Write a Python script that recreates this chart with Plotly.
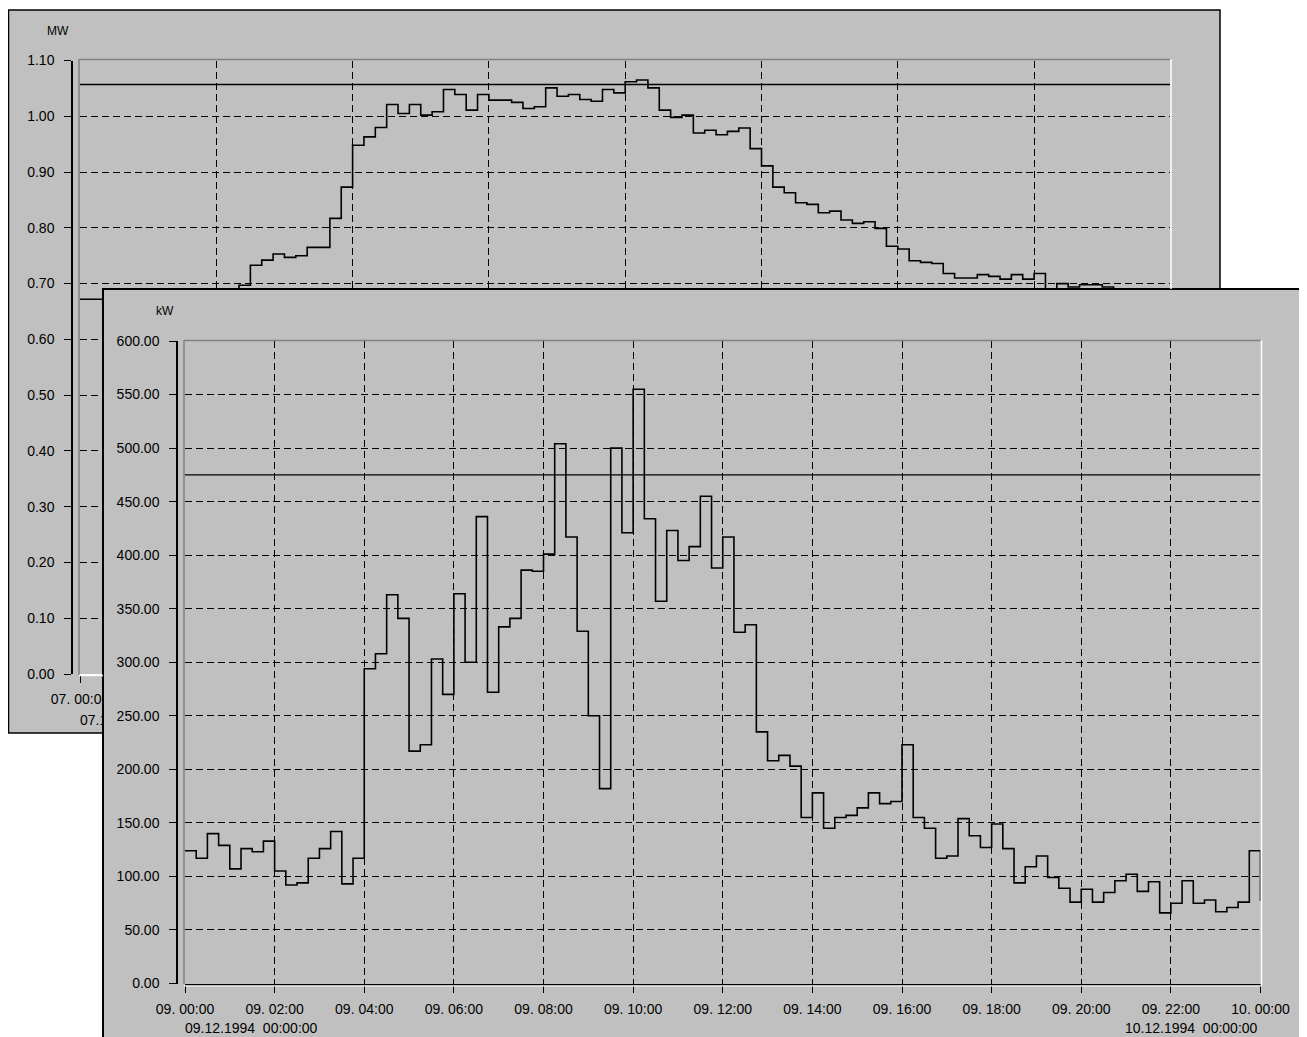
import pandas as pd
import plotly.graph_objects as go

# the page body adds an 8 px margin; the figure is sized to fill the rest of the window
OFF = 8
W, H = 1307 - OFF, 1037 - OFF

# ---------------- data ----------------
# back chart: 07.12.1994, MW, 15-minute values (96 + closing point)
back_mw = [0.672, 0.672, 0.661, 0.665, 0.670, 0.668, 0.672, 0.675, 0.671, 0.678, 0.676, 0.680,
           0.683, 0.684, 0.697, 0.733, 0.742, 0.753, 0.747, 0.750, 0.765, 0.765, 0.817, 0.873,
           0.948, 0.963, 0.980, 1.021, 1.005, 1.021, 1.002, 1.008, 1.048, 1.039, 1.011, 1.039,
           1.029, 1.029, 1.025, 1.014, 1.017, 1.051, 1.036, 1.039, 1.030, 1.027, 1.048, 1.042,
           1.062, 1.065, 1.051, 1.011, 0.998, 1.002, 0.970, 0.975, 0.967, 0.973, 0.979, 0.942,
           0.911, 0.873, 0.863, 0.845, 0.842, 0.827, 0.830, 0.814, 0.808, 0.811, 0.799, 0.767,
           0.762, 0.741, 0.738, 0.736, 0.718, 0.710, 0.710, 0.716, 0.713, 0.708, 0.716, 0.708,
           0.718, 0.688, 0.700, 0.694, 0.698, 0.698, 0.694, 0.684, 0.680, 0.676, 0.679, 0.672,
           0.672]
back_ref = 1.057

# front chart: 09.12.1994, kW, 15-minute values (96 + closing point)
front_kw = [124, 117, 140, 129, 107, 126, 123, 133, 105, 92, 94, 117, 126, 142, 93, 117,
            294, 308, 363, 341, 217, 223, 303, 270, 364, 300, 436, 272, 333, 341, 386, 385,
            401, 504, 417, 329, 250, 182, 500, 421, 555, 434, 357, 423, 395, 408, 455, 388,
            417, 328, 335, 235, 208, 213, 203, 155, 178, 145, 155, 157, 164, 178, 168, 170,
            223, 155, 145, 117, 119, 154, 138, 127, 149, 126, 94, 109, 119, 99, 89, 76,
            88, 76, 85, 96, 102, 86, 95, 66, 75, 96, 75, 78, 67, 71, 76, 124,
            77]
front_ref = 475

back_start, back_end = "1994-12-07 00:00", "1994-12-08 00:00"
front_start, front_end = "1994-12-09 00:00", "1994-12-10 00:00"
back_tick_times = pd.date_range(back_start, back_end, freq="3h")
back_tick_text = ["07. 00:00"] + [""] * (len(back_tick_times) - 1)
back_date_label = "07.12.1994\u00a0\u00a000:00:00"
front_date_left = "09.12.1994\u00a0\u00a000:00:00"
front_date_right = "10.12.1994\u00a0\u00a000:00:00"
back_unit = "MW"
front_unit = "kW"

back_t = pd.date_range(back_start, periods=len(back_mw), freq="15min")
front_t = pd.date_range(front_start, periods=len(front_kw), freq="15min")

# ---------------- helpers (window pixels -> paper fractions) ----------------
def fx(x):
    return (x - OFF) / W

def fy(y):
    return 1 - (y - OFF) / H

GRAY = "#C0C0C0"
DARK = "#808080"
FONT = "Liberation Sans, Arial, sans-serif"
TF = dict(family=FONT, size=14, color="black")
DASH = "7px,4px"

fig = go.Figure()

# back chart traces
fig.add_trace(go.Scatter(x=back_t, y=back_mw, mode="lines",
                         line=dict(color="black", width=1.6, shape="hv"),
                         xaxis="x", yaxis="y", hoverinfo="skip"))
fig.add_trace(go.Scatter(x=[back_t[0], back_t[-1]], y=[back_ref, back_ref], mode="lines",
                         line=dict(color="black", width=1.3),
                         xaxis="x", yaxis="y", hoverinfo="skip"))
# cover panel for the front window
fig.add_trace(go.Scatter(x=[], y=[], xaxis="x2", yaxis="y2", hoverinfo="skip"))
# front chart traces
fig.add_trace(go.Scatter(x=front_t, y=front_kw, mode="lines",
                         line=dict(color="black", width=1.6, shape="hv"),
                         xaxis="x3", yaxis="y3", hoverinfo="skip"))
fig.add_trace(go.Scatter(x=[front_t[0], front_t[-1]], y=[front_ref, front_ref], mode="lines",
                         line=dict(color="black", width=1.3),
                         xaxis="x3", yaxis="y3", hoverinfo="skip"))
# back date label axis
fig.add_trace(go.Scatter(x=[], y=[], xaxis="x4", yaxis="y", hoverinfo="skip"))

common_x = dict(type="date", showgrid=True, gridcolor="black",
                griddash=DASH, gridwidth=1.4, zeroline=False, ticks="outside", ticklen=8,
                tickcolor="black", tickfont=TF, fixedrange=True, automargin=False)
common_y = dict(showgrid=True, gridcolor="black", griddash=DASH, gridwidth=1.4, zeroline=False,
                ticks="outside", ticklen=7, tickcolor="black", tickfont=TF,
                showline=True, linecolor="black", linewidth=1.5, fixedrange=True,
                tickformat=".2f", ticklabelstandoff=7, automargin=False)

fig.update_layout(
    width=W, height=H, margin=dict(l=0, r=0, t=0, b=0, pad=0, autoexpand=False),
    paper_bgcolor="white", plot_bgcolor=GRAY, showlegend=False,
    xaxis=dict(domain=[fx(80), fx(1170.4)], anchor="y", range=[back_start, back_end],
               tickmode="array", tickvals=back_tick_times, ticktext=back_tick_text,
               showline=True, linecolor="white", linewidth=1,
               ticklabelstandoff=4, **common_x),
    yaxis=dict(domain=[fy(674), fy(60.5)], anchor="free", position=fx(72),
               range=[0, 1.1], dtick=0.1, **common_y),
    xaxis4=dict(overlaying="x", anchor="y", range=[back_start, back_end], type="date",
                tickvals=[back_start], ticktext=[back_date_label], ticks="",
                showgrid=False, showline=False, zeroline=False, tickfont=TF,
                ticklabelposition="outside right", ticklabelstandoff=36, fixedrange=True,
                automargin=False),
    xaxis2=dict(domain=[fx(104), 1], anchor="y2", range=[0, 1], showline=True,
                linecolor="black", linewidth=2, mirror=False, showticklabels=False,
                ticks="", showgrid=False, zeroline=False, side="top", fixedrange=True,
                automargin=False),
    yaxis2=dict(domain=[0, fy(290)], anchor="x2", range=[0, 1], showline=True,
                linecolor="black", linewidth=2, mirror=False, showticklabels=False,
                ticks="", showgrid=False, zeroline=False, fixedrange=True, automargin=False),
    xaxis3=dict(domain=[fx(185), fx(1260.5)], anchor="y3", range=[front_start, front_end],
                dtick=2 * 3600000, tickformat="%d. %H:%M", showline=True, linecolor="black",
                linewidth=1.5, ticklabelstandoff=4, **common_x),
    yaxis3=dict(domain=[fy(983.5), fy(341)], anchor="free", position=fx(177),
                range=[0, 600], dtick=50, **common_y),
)

shapes = [
    # back window frame
    dict(type="rect", xref="paper", yref="paper", x0=fx(8.5), x1=fx(1220), y0=fy(733), y1=fy(10),
         fillcolor=GRAY, line=dict(color="black", width=1.5), layer="below"),
    # back plot area bevel
    dict(type="line", xref="paper", yref="paper", x0=fx(79), x1=fx(1171), y0=fy(59.5), y1=fy(59.5),
         line=dict(color=DARK, width=1.5), layer="above"),
    dict(type="line", xref="paper", yref="paper", x0=fx(79), x1=fx(79), y0=fy(59), y1=fy(675),
         line=dict(color=DARK, width=1.5), layer="above"),
    dict(type="line", xref="paper", yref="paper", x0=fx(1171), x1=fx(1171), y0=fy(59), y1=fy(289),
         line=dict(color="white", width=1.5), layer="above"),
    dict(type="line", xref="paper", yref="paper", x0=fx(79), x1=fx(103), y0=fy(675.5), y1=fy(675.5),
         line=dict(color="white", width=1.5), layer="above"),
    # front plot area bevel
    dict(type="line", xref="paper", yref="paper", x0=fx(184), x1=fx(1261), y0=fy(340.5), y1=fy(340.5),
         line=dict(color=DARK, width=1.5), layer="above"),
    dict(type="line", xref="paper", yref="paper", x0=fx(184), x1=fx(184), y0=fy(340), y1=fy(984),
         line=dict(color=DARK, width=1.5), layer="above"),
    dict(type="line", xref="paper", yref="paper", x0=fx(1261.5), x1=fx(1261.5), y0=fy(340), y1=fy(985),
         line=dict(color="white", width=1.5), layer="above"),
    dict(type="line", xref="paper", yref="paper", x0=fx(184), x1=fx(1262), y0=fy(985.8), y1=fy(985.8),
         line=dict(color="white", width=1.2), layer="above"),
]
fig.update_layout(shapes=shapes)

fig.update_layout(annotations=[
    dict(text=back_unit, xref="paper", yref="paper", x=fx(58), y=fy(31), showarrow=False,
         xanchor="center", yanchor="middle", font=dict(family=FONT, size=12, color="black")),
    dict(text=front_unit, xref="paper", yref="paper", x=fx(165), y=fy(311), showarrow=False,
         xanchor="center", yanchor="middle", font=dict(family=FONT, size=12, color="black")),
    dict(text=front_date_left, xref="paper", yref="paper", x=fx(183), y=fy(1028), showarrow=False,
         xanchor="left", yanchor="middle", font=TF),
    dict(text=front_date_right, xref="paper", yref="paper", x=fx(1260), y=fy(1028), showarrow=False,
         xanchor="right", yanchor="middle", font=TF),
])

fig.write_html("out.html")
